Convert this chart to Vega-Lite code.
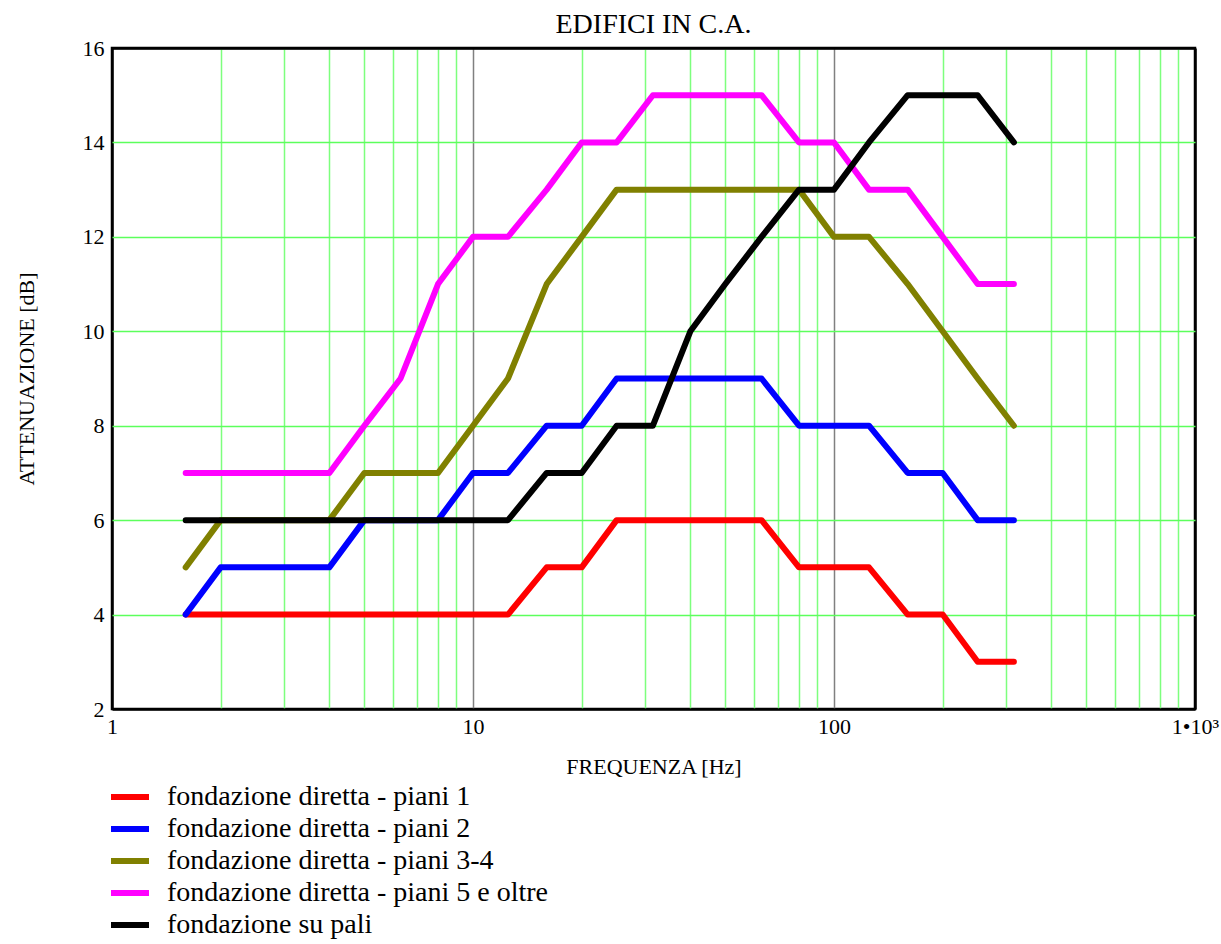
{
  "$schema": "https://vega.github.io/schema/vega-lite/v6.json",
  "autosize": {"type": "none"},
  "padding": {"left": 112, "top": 48, "right": 26, "bottom": 235},
  "width": 1083,
  "height": 661,
  "background": "white",
  "title": {
    "text": "EDIFICI IN C.A.",
    "font": "Liberation Serif",
    "fontSize": 28,
    "fontWeight": "normal",
    "color": "black",
    "offset": -2
  },
  "config": {
    "view": {"stroke": "black", "strokeWidth": 2.5},
    "font": "Liberation Serif"
  },
  "data": {
    "values": [
      {"f": 1.6, "db": 4, "s": "fondazione diretta - piani 1"},
      {"f": 2, "db": 4, "s": "fondazione diretta - piani 1"},
      {"f": 2.5, "db": 4, "s": "fondazione diretta - piani 1"},
      {"f": 3.15, "db": 4, "s": "fondazione diretta - piani 1"},
      {"f": 4, "db": 4, "s": "fondazione diretta - piani 1"},
      {"f": 5, "db": 4, "s": "fondazione diretta - piani 1"},
      {"f": 6.3, "db": 4, "s": "fondazione diretta - piani 1"},
      {"f": 8, "db": 4, "s": "fondazione diretta - piani 1"},
      {"f": 10, "db": 4, "s": "fondazione diretta - piani 1"},
      {"f": 12.5, "db": 4, "s": "fondazione diretta - piani 1"},
      {"f": 16, "db": 5, "s": "fondazione diretta - piani 1"},
      {"f": 20, "db": 5, "s": "fondazione diretta - piani 1"},
      {"f": 25, "db": 6, "s": "fondazione diretta - piani 1"},
      {"f": 31.5, "db": 6, "s": "fondazione diretta - piani 1"},
      {"f": 40, "db": 6, "s": "fondazione diretta - piani 1"},
      {"f": 50, "db": 6, "s": "fondazione diretta - piani 1"},
      {"f": 63, "db": 6, "s": "fondazione diretta - piani 1"},
      {"f": 80, "db": 5, "s": "fondazione diretta - piani 1"},
      {"f": 100, "db": 5, "s": "fondazione diretta - piani 1"},
      {"f": 125, "db": 5, "s": "fondazione diretta - piani 1"},
      {"f": 160, "db": 4, "s": "fondazione diretta - piani 1"},
      {"f": 200, "db": 4, "s": "fondazione diretta - piani 1"},
      {"f": 250, "db": 3, "s": "fondazione diretta - piani 1"},
      {"f": 315, "db": 3, "s": "fondazione diretta - piani 1"},

      {"f": 1.6, "db": 4, "s": "fondazione diretta - piani 2"},
      {"f": 2, "db": 5, "s": "fondazione diretta - piani 2"},
      {"f": 2.5, "db": 5, "s": "fondazione diretta - piani 2"},
      {"f": 3.15, "db": 5, "s": "fondazione diretta - piani 2"},
      {"f": 4, "db": 5, "s": "fondazione diretta - piani 2"},
      {"f": 5, "db": 6, "s": "fondazione diretta - piani 2"},
      {"f": 6.3, "db": 6, "s": "fondazione diretta - piani 2"},
      {"f": 8, "db": 6, "s": "fondazione diretta - piani 2"},
      {"f": 10, "db": 7, "s": "fondazione diretta - piani 2"},
      {"f": 12.5, "db": 7, "s": "fondazione diretta - piani 2"},
      {"f": 16, "db": 8, "s": "fondazione diretta - piani 2"},
      {"f": 20, "db": 8, "s": "fondazione diretta - piani 2"},
      {"f": 25, "db": 9, "s": "fondazione diretta - piani 2"},
      {"f": 31.5, "db": 9, "s": "fondazione diretta - piani 2"},
      {"f": 40, "db": 9, "s": "fondazione diretta - piani 2"},
      {"f": 50, "db": 9, "s": "fondazione diretta - piani 2"},
      {"f": 63, "db": 9, "s": "fondazione diretta - piani 2"},
      {"f": 80, "db": 8, "s": "fondazione diretta - piani 2"},
      {"f": 100, "db": 8, "s": "fondazione diretta - piani 2"},
      {"f": 125, "db": 8, "s": "fondazione diretta - piani 2"},
      {"f": 160, "db": 7, "s": "fondazione diretta - piani 2"},
      {"f": 200, "db": 7, "s": "fondazione diretta - piani 2"},
      {"f": 250, "db": 6, "s": "fondazione diretta - piani 2"},
      {"f": 315, "db": 6, "s": "fondazione diretta - piani 2"},

      {"f": 1.6, "db": 5, "s": "fondazione diretta - piani 3-4"},
      {"f": 2, "db": 6, "s": "fondazione diretta - piani 3-4"},
      {"f": 2.5, "db": 6, "s": "fondazione diretta - piani 3-4"},
      {"f": 3.15, "db": 6, "s": "fondazione diretta - piani 3-4"},
      {"f": 4, "db": 6, "s": "fondazione diretta - piani 3-4"},
      {"f": 5, "db": 7, "s": "fondazione diretta - piani 3-4"},
      {"f": 6.3, "db": 7, "s": "fondazione diretta - piani 3-4"},
      {"f": 8, "db": 7, "s": "fondazione diretta - piani 3-4"},
      {"f": 10, "db": 8, "s": "fondazione diretta - piani 3-4"},
      {"f": 12.5, "db": 9, "s": "fondazione diretta - piani 3-4"},
      {"f": 16, "db": 11, "s": "fondazione diretta - piani 3-4"},
      {"f": 20, "db": 12, "s": "fondazione diretta - piani 3-4"},
      {"f": 25, "db": 13, "s": "fondazione diretta - piani 3-4"},
      {"f": 31.5, "db": 13, "s": "fondazione diretta - piani 3-4"},
      {"f": 40, "db": 13, "s": "fondazione diretta - piani 3-4"},
      {"f": 50, "db": 13, "s": "fondazione diretta - piani 3-4"},
      {"f": 63, "db": 13, "s": "fondazione diretta - piani 3-4"},
      {"f": 80, "db": 13, "s": "fondazione diretta - piani 3-4"},
      {"f": 100, "db": 12, "s": "fondazione diretta - piani 3-4"},
      {"f": 125, "db": 12, "s": "fondazione diretta - piani 3-4"},
      {"f": 160, "db": 11, "s": "fondazione diretta - piani 3-4"},
      {"f": 200, "db": 10, "s": "fondazione diretta - piani 3-4"},
      {"f": 250, "db": 9, "s": "fondazione diretta - piani 3-4"},
      {"f": 315, "db": 8, "s": "fondazione diretta - piani 3-4"},

      {"f": 1.6, "db": 7, "s": "fondazione diretta - piani 5 e oltre"},
      {"f": 2, "db": 7, "s": "fondazione diretta - piani 5 e oltre"},
      {"f": 2.5, "db": 7, "s": "fondazione diretta - piani 5 e oltre"},
      {"f": 3.15, "db": 7, "s": "fondazione diretta - piani 5 e oltre"},
      {"f": 4, "db": 7, "s": "fondazione diretta - piani 5 e oltre"},
      {"f": 5, "db": 8, "s": "fondazione diretta - piani 5 e oltre"},
      {"f": 6.3, "db": 9, "s": "fondazione diretta - piani 5 e oltre"},
      {"f": 8, "db": 11, "s": "fondazione diretta - piani 5 e oltre"},
      {"f": 10, "db": 12, "s": "fondazione diretta - piani 5 e oltre"},
      {"f": 12.5, "db": 12, "s": "fondazione diretta - piani 5 e oltre"},
      {"f": 16, "db": 13, "s": "fondazione diretta - piani 5 e oltre"},
      {"f": 20, "db": 14, "s": "fondazione diretta - piani 5 e oltre"},
      {"f": 25, "db": 14, "s": "fondazione diretta - piani 5 e oltre"},
      {"f": 31.5, "db": 15, "s": "fondazione diretta - piani 5 e oltre"},
      {"f": 40, "db": 15, "s": "fondazione diretta - piani 5 e oltre"},
      {"f": 50, "db": 15, "s": "fondazione diretta - piani 5 e oltre"},
      {"f": 63, "db": 15, "s": "fondazione diretta - piani 5 e oltre"},
      {"f": 80, "db": 14, "s": "fondazione diretta - piani 5 e oltre"},
      {"f": 100, "db": 14, "s": "fondazione diretta - piani 5 e oltre"},
      {"f": 125, "db": 13, "s": "fondazione diretta - piani 5 e oltre"},
      {"f": 160, "db": 13, "s": "fondazione diretta - piani 5 e oltre"},
      {"f": 200, "db": 12, "s": "fondazione diretta - piani 5 e oltre"},
      {"f": 250, "db": 11, "s": "fondazione diretta - piani 5 e oltre"},
      {"f": 315, "db": 11, "s": "fondazione diretta - piani 5 e oltre"},

      {"f": 1.6, "db": 6, "s": "fondazione su pali"},
      {"f": 2, "db": 6, "s": "fondazione su pali"},
      {"f": 2.5, "db": 6, "s": "fondazione su pali"},
      {"f": 3.15, "db": 6, "s": "fondazione su pali"},
      {"f": 4, "db": 6, "s": "fondazione su pali"},
      {"f": 5, "db": 6, "s": "fondazione su pali"},
      {"f": 6.3, "db": 6, "s": "fondazione su pali"},
      {"f": 8, "db": 6, "s": "fondazione su pali"},
      {"f": 10, "db": 6, "s": "fondazione su pali"},
      {"f": 12.5, "db": 6, "s": "fondazione su pali"},
      {"f": 16, "db": 7, "s": "fondazione su pali"},
      {"f": 20, "db": 7, "s": "fondazione su pali"},
      {"f": 25, "db": 8, "s": "fondazione su pali"},
      {"f": 31.5, "db": 8, "s": "fondazione su pali"},
      {"f": 40, "db": 10, "s": "fondazione su pali"},
      {"f": 50, "db": 11, "s": "fondazione su pali"},
      {"f": 63, "db": 12, "s": "fondazione su pali"},
      {"f": 80, "db": 13, "s": "fondazione su pali"},
      {"f": 100, "db": 13, "s": "fondazione su pali"},
      {"f": 125, "db": 14, "s": "fondazione su pali"},
      {"f": 160, "db": 15, "s": "fondazione su pali"},
      {"f": 200, "db": 15, "s": "fondazione su pali"},
      {"f": 250, "db": 15, "s": "fondazione su pali"},
      {"f": 315, "db": 14, "s": "fondazione su pali"}
    ]
  },
  "mark": {"type": "line", "strokeWidth": 6, "strokeJoin": "round", "strokeCap": "round", "clip": true},
  "encoding": {
    "x": {
      "field": "f",
      "type": "quantitative",
      "scale": {"type": "log", "domain": [1, 1000], "nice": false},
      "axis": {
        "title": "FREQUENZA [Hz]",
        "titleFont": "Liberation Serif",
        "titleFontSize": 22,
        "titleFontWeight": "normal",
        "titleColor": "black",
        "titlePadding": 19,
        "values": [1, 2, 3, 4, 5, 6, 7, 8, 9, 10, 20, 30, 40, 50, 60, 70, 80, 90, 100, 200, 300, 400, 500, 600, 700, 800, 900, 1000],
        "labelExpr": "datum.value == 1 ? '1' : datum.value == 10 ? '10' : datum.value == 100 ? '100' : datum.value == 1000 ? '1•10³' : ''",
        "labelFont": "Liberation Serif",
        "labelFontSize": 22,
        "labelColor": "black",
        "labelPadding": 7,
        "labelDx": 5,
        "labelFlush": false,
        "labelOverlap": false,
        "ticks": false,
        "domain": false,
        "grid": true,
        "gridColor": {
          "condition": [
            {"test": "datum.value == 1 || datum.value == 1000", "value": "#000000"},
            {"test": "datum.value == 10 || datum.value == 100", "value": "#808080"}
          ],
          "value": "#7dff7d"
        },
        "gridWidth": {
          "condition": {"test": "datum.value == 1 || datum.value == 1000", "value": 2.5},
          "value": 1.5
        },
        "gridOpacity": 1
      }
    },
    "y": {
      "field": "db",
      "type": "quantitative",
      "scale": {"domain": [2, 16], "nice": false, "zero": false},
      "axis": {
        "title": "ATTENUAZIONE [dB]",
        "titleFont": "Liberation Serif",
        "titleFontSize": 22,
        "titleFontWeight": "normal",
        "titleColor": "black",
        "titlePadding": 44,
        "values": [2, 4, 6, 8, 10, 12, 14, 16],
        "labelFont": "Liberation Serif",
        "labelFontSize": 22,
        "labelColor": "black",
        "labelPadding": 8,
        "labelDy": 3,
        "labelFlush": false,
        "ticks": false,
        "domain": false,
        "grid": true,
        "gridColor": {
          "condition": {"test": "datum.value == 2 || datum.value == 16", "value": "#000000"},
          "value": "#5cff5c"
        },
        "gridWidth": {
          "condition": {"test": "datum.value == 2 || datum.value == 16", "value": 2.5},
          "value": 1.5
        },
        "gridOpacity": 1
      }
    },
    "color": {
      "field": "s",
      "type": "nominal",
      "scale": {
        "domain": ["fondazione diretta - piani 1", "fondazione diretta - piani 2", "fondazione diretta - piani 3-4", "fondazione diretta - piani 5 e oltre", "fondazione su pali"],
        "range": ["#ff0000", "#0000ff", "#808000", "#ff00ff", "#000000"]
      },
      "legend": {
        "title": null,
        "orient": "none",
        "legendX": 4,
        "legendY": 735,
        "padding": 0,
        "symbolType": "M-2,0L2,0",
        "symbolSize": 361,
        "symbolStrokeWidth": 6,
        "labelFont": "Liberation Serif",
        "labelFontSize": 28,
        "labelColor": "black",
        "labelOffset": 23,
        "labelLimit": 700,
        "rowPadding": 4
      }
    }
  }
}
